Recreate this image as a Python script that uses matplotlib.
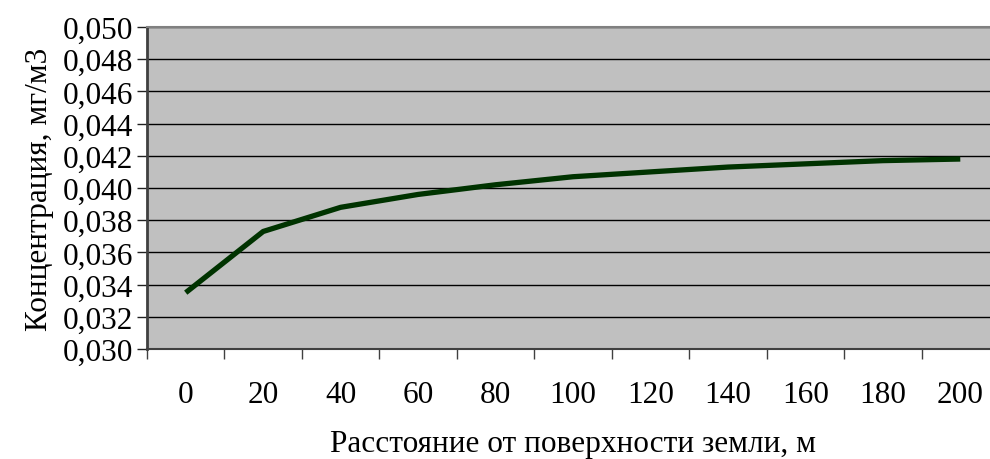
import matplotlib
matplotlib.use("Agg")
import matplotlib.pyplot as plt
import numpy as np
from matplotlib.ticker import FixedLocator, FuncFormatter

# data
distance = [0, 20, 40, 60, 80, 100, 120, 140, 160, 180, 200]
concentration = [0.0335, 0.0373, 0.0388, 0.0396, 0.0402, 0.0407, 0.0410,
                 0.0413, 0.0415, 0.0417, 0.0418]
y_ticks = [0.030, 0.032, 0.034, 0.036, 0.038, 0.040, 0.042, 0.044, 0.046, 0.048, 0.050]

plt.rcParams['font.family'] = ['Liberation Serif', 'DejaVu Serif']
FS = 22.5

fig = plt.figure(figsize=(9.9, 4.6), dpi=100)
# plot area runs past the right edge, as in the original
ax = fig.add_axes([147/990, 1 - 350/460, 852/990, 322/460])
ax.set_facecolor('#C0C0C0')

pos = np.arange(len(distance))
ax.plot(pos, concentration, color='#003300', lw=3.8, solid_capstyle='butt', zorder=3)

ax.set_xlim(-0.5, len(distance) - 0.5)
ax.set_ylim(y_ticks[0], y_ticks[-1])

# category axis: ticks between categories, labels at centers
ax.xaxis.set_major_locator(FixedLocator(np.arange(-0.5, len(distance), 1.0)))
ax.xaxis.set_major_formatter(FuncFormatter(lambda v, p: ''))
ax.xaxis.set_minor_locator(FixedLocator(pos))
ax.xaxis.set_minor_formatter(FuncFormatter(lambda v, p: str(distance[int(round(v))])))
ax.tick_params(axis='x', which='major', direction='out', length=7, width=1, color='#404040')
ax.tick_params(axis='x', which='minor', length=0, pad=22, labelsize=FS)

ax.set_yticks(y_ticks)
ax.yaxis.set_major_formatter(FuncFormatter(lambda v, p: f"{v:.3f}".replace('.', ',')))
ax.tick_params(axis='y', direction='out', length=7, width=1, color='#202020', pad=3, labelsize=FS)

ax.grid(axis='y', color='black', lw=1.0)
ax.set_axisbelow(True)

ax.spines['left'].set_color('#404040')
ax.spines['left'].set_linewidth(2)
ax.spines['bottom'].set_color('#404040')
ax.spines['bottom'].set_linewidth(1.5)
ax.spines['top'].set_color('#808080')
ax.spines['top'].set_linewidth(1.5)
ax.spines['right'].set_visible(False)

ax.set_xlabel('Расстояние от поверхности земли, м', fontsize=FS, labelpad=15)
ax.set_ylabel('Концентрация, мг/м3', fontsize=FS, labelpad=6)

fig.savefig('out.png', dpi=100)
